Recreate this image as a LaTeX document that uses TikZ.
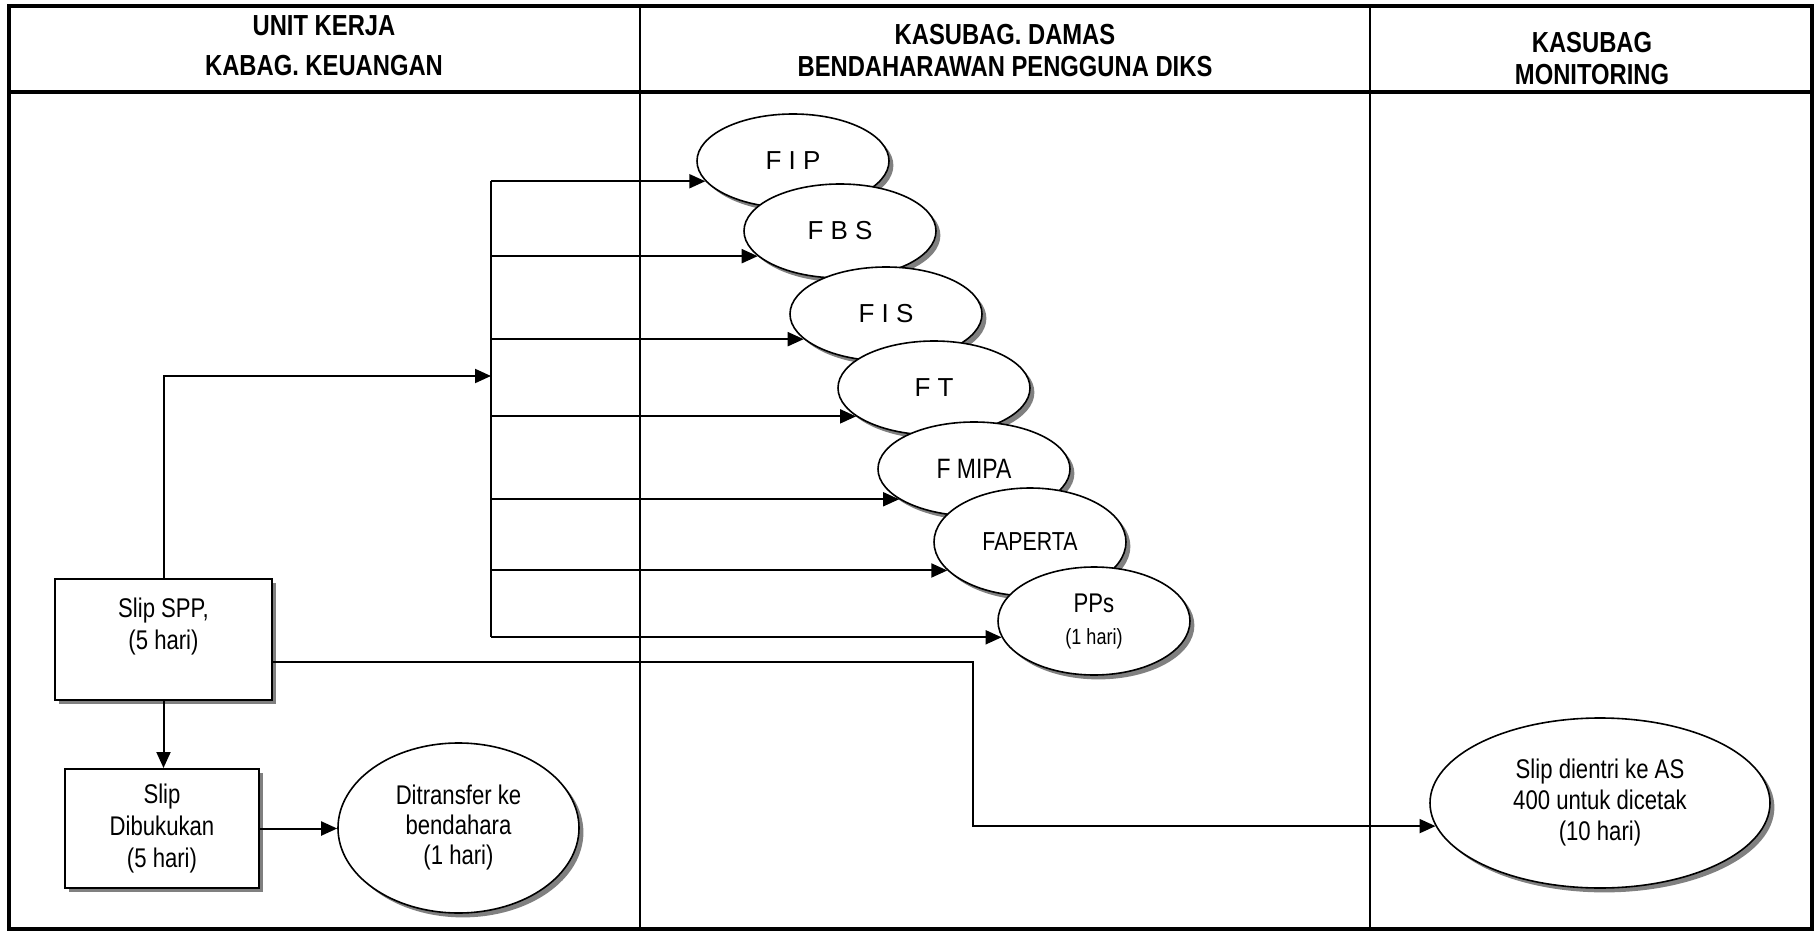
\documentclass[tikz,border=0pt]{standalone}
\usepackage{fontspec}
\setmainfont{Liberation Sans}
\newfontfamily\narrowfont[FakeStretch=0.82]{Liberation Sans}
\usetikzlibrary{shapes.geometric,shadows,arrows.meta}

\begin{document}
\begin{tikzpicture}[x=0.5pt,y=-0.5pt,
  frame/.style={line width=2pt},
  divider/.style={line width=0.8pt},
  headtext/.style={align=center,inner sep=0pt,font=\narrowfont\bfseries\fontsize{14.5}{16}\selectfont},
  shade/.style={drop shadow={shadow xshift=2.2pt,shadow yshift=-2.2pt,fill=black!50,opacity=1}},
  box/.style={draw,line width=1pt,fill=white,shade,align=center,inner sep=0pt,
    font=\narrowfont\fontsize{13.5}{16}\selectfont},
  oval/.style={ellipse,draw,line width=0.8pt,fill=white,shade,align=center,inner sep=0pt,
    minimum width=96pt,minimum height=47pt,font=\fontsize{13}{15}\selectfont},
  line/.style={line width=1pt},
  arr/.style={line width=1pt,-{Triangle[length=8pt,width=7pt]}}]
\useasboundingbox (0,0) rectangle (1816,931);

% swimlane frame
\draw[frame] (9,6) rectangle (1812,929);
\draw[frame] (9,92) -- (1812,92);
\draw[divider] (640,6) -- (640,929);
\draw[divider] (1370,6) -- (1370,929);

% lane headings
\node[headtext,font=\narrowfont\bfseries\fontsize{14.5}{20}\selectfont] (lane1) at (324,46)
  {UNIT KERJA\\KABAG. KEUANGAN};
\node[headtext] (lane2) at (1005,51) {KASUBAG. DAMAS\\BENDAHARAWAN PENGGUNA DIKS};
\node[headtext] (lane3) at (1592,59) {KASUBAG\\MONITORING};

% faculties
\node[oval] (fip) at (793,161) {F I P};
\node[oval] (fbs) at (840,231) {F B S};
\node[oval] (fis) at (886,314) {F I S};
\node[oval] (ft) at (934,388) {F T};
\node[oval,font=\narrowfont\fontsize{14}{16}\selectfont] (fmipa) at (974,469) {F MIPA};
\node[oval,minimum height=54pt,font=\narrowfont\fontsize{13}{15}\selectfont] (faperta) at (1030,542) {FAPERTA};
\node[oval,minimum height=54pt,font=\narrowfont\fontsize{13.5}{16}\selectfont] (pps) at (1094,621)
  {PPs\\{\fontsize{11}{13}\selectfont(1 hari)}};

% process steps
\node[box,minimum width=108.5pt,minimum height=60.5pt] (spp) at (163.5,639.5)
  {Slip SPP,\\(5 hari)\\\mbox{}};
\node[box,minimum width=97pt,minimum height=59.5pt] (buk) at (162,828.5)
  {Slip\\Dibukukan\\(5 hari)};
\node[oval,minimum width=120.5pt,minimum height=85pt,font=\narrowfont\fontsize{13.5}{15}\selectfont] (dit) at (458.5,828)
  {Ditransfer ke\\bendahara\\(1 hari)};
\node[oval,minimum width=170pt,minimum height=85pt,font=\narrowfont\fontsize{13.5}{15.5}\selectfont] (as) at (1600,803)
  {Slip dientri ke AS\\400 untuk dicetak\\(10 hari)};

% distribution bus
\coordinate (busx) at (491,0);
\coordinate (busin) at (491,376);
\draw[arr] (spp.north) |- (busin);
\draw[line] (busx |- fip.193) -- (busx |- pps.190);
\draw[arr] (busx |- fip.193) -- (fip.193);
\draw[arr] (busx |- fbs.197) -- (fbs.197);
\draw[arr] (busx |- fis.197) -- (fis.197);
\draw[arr] (busx |- ft.200) -- (ft.200);
\draw[arr] (busx |- fmipa.202) -- (fmipa.202);
\draw[arr] (busx |- faperta.199) -- (faperta.199);
\draw[arr] (busx |- pps.190) -- (pps.190);

% booking and transfer
\draw[arr] (spp.south) -- (spp.south |- buk.north);
\draw[arr] (buk.east) -- (buk.east -| dit.west);

% route to monitoring
\coordinate (elbow) at (973,662);
\coordinate (drop) at (elbow |- as.188);
\draw[arr] (spp.east |- elbow) -- (elbow) -- (drop) -- (as.188);
\end{tikzpicture}
\end{document}
